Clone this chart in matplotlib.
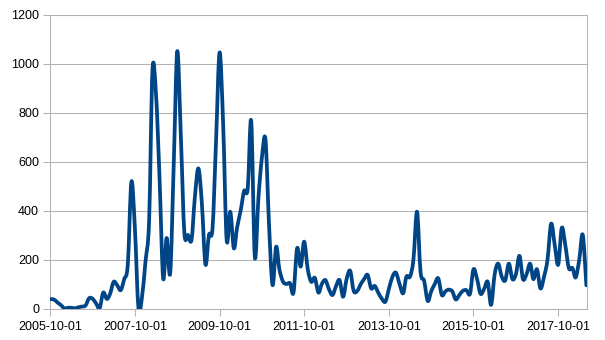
import pandas as pd
import numpy as np
import matplotlib
matplotlib.use("Agg")
import matplotlib.pyplot as plt
import matplotlib.dates as mdates
from matplotlib.path import Path
from matplotlib.patches import PathPatch

# monthly series, 2005-10 .. 2018-06
start_month = "2005-10-01"
values = [
    38, 37, 25, 14, 0, 3, 3, 1, 5, 8,            # 2005-10 .. 2006-07
    12, 42, 40, 20, 2, 65, 39, 60, 109, 95,      # 2006-08 .. 2007-05
    75, 120, 180, 517, 330, 0, 45, 194, 360, 975,
    870, 530, 124, 288, 145, 600, 1050, 700, 310, 300,
    280, 450, 572, 430, 180, 300, 327, 690, 1045, 750,
    280, 395, 246, 330, 400, 480, 490, 765, 211, 450,
    615, 690, 350, 96, 252, 160, 110, 100, 103, 65,
    246, 171, 273, 160, 109, 125, 65, 100, 116, 80,
    55, 90, 116, 48, 120, 154, 72, 72, 100, 120,
    137, 82, 92, 65, 40, 28, 80, 130, 146, 100,
    62, 130, 130, 200, 395, 150, 113, 31, 70, 100,
    123, 55, 70, 77, 70, 37, 55, 72, 75, 60,
    160, 120, 60, 80, 109, 15, 140, 183, 130, 115,
    183, 120, 140, 215, 120, 140, 183, 120, 160, 82,
    130, 200, 346, 260, 179, 329, 260, 165, 165, 127,
    200, 301, 95,
]
dates = pd.date_range(start_month, periods=len(values), freq="MS")

y_ticks = [0, 200, 400, 600, 800, 1000, 1200]
x_ticks = ["2005-10-01", "2007-10-01", "2009-10-01", "2011-10-01",
           "2013-10-01", "2015-10-01", "2017-10-01"]

plt.rcParams["font.family"] = ["Liberation Sans", "DejaVu Sans"]


def smooth_path(x, y):
    # Catmull-Rom through the data points, as bezier segments (smoothed line look)
    pts = np.column_stack([x, y]).astype(float)
    n = len(pts)
    verts = [pts[0]]
    codes = [Path.MOVETO]
    for i in range(n - 1):
        p0 = pts[max(i - 1, 0)]
        p1 = pts[i]
        p2 = pts[i + 1]
        p3 = pts[min(i + 2, n - 1)]
        verts += [p1 + (p2 - p0) / 6.0, p2 - (p3 - p1) / 6.0, p2]
        codes += [Path.CURVE4] * 3
    return Path(verts, codes)


fig = plt.figure(figsize=(6.05, 3.4), dpi=100)
ax = fig.add_axes([0.0831, 0.0926, 0.8876, 0.8647])

grid_col = "#b3b3b3"
line = smooth_path(mdates.date2num(dates), values)
ax.add_patch(PathPatch(line, facecolor="none", edgecolor="#004586",
                       linewidth=2.7, joinstyle="round", capstyle="round",
                       zorder=3))

ax.set_ylim(0, 1200)
ax.set_yticks(y_ticks)
ax.set_xlim(dates[0], dates[-1] + pd.Timedelta(days=8))
ax.set_xticks(pd.to_datetime(x_ticks))
ax.xaxis.set_major_formatter(mdates.DateFormatter("%Y-%m-%d"))

ax.yaxis.grid(True, color=grid_col, linewidth=0.75)
ax.set_axisbelow(True)
for side in ["left", "right", "top", "bottom"]:
    ax.spines[side].set_color(grid_col)
    ax.spines[side].set_linewidth(0.75)
ax.tick_params(axis="both", colors=grid_col, length=5, width=0.75,
               labelsize=9, labelcolor="black")
ax.tick_params(axis="y", pad=3)
ax.tick_params(axis="x", pad=4)

fig.savefig("out.png", dpi=100)
